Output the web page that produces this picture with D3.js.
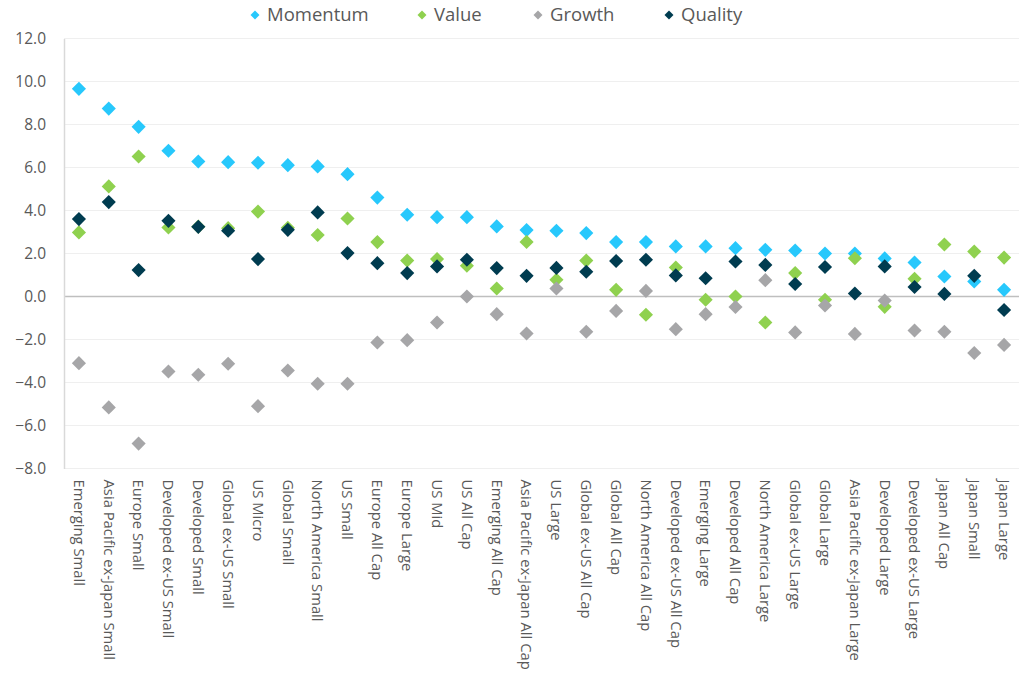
<!DOCTYPE html>
<html>
<head>
<meta charset="utf-8">
<script src="https://cdn.jsdelivr.net/npm/d3@7"></script>
<style>
  body { margin: 0; background: #fff; }
  text { font-family: "Open Sans", "Noto Sans", sans-serif; fill: #595959; }
</style>
</head>
<body>
<svg id="chart" width="1024" height="691"></svg>
<script>
var categories = ["Emerging Small", "Asia Pacific ex-Japan Small", "Europe Small", "Developed ex-US Small",
  "Developed Small", "Global ex-US Small", "US Micro", "Global Small", "North America Small", "US Small",
  "Europe All Cap", "Europe Large", "US Mid", "US All Cap", "Emerging All Cap", "Asia Pacific ex-Japan All Cap",
  "US Large", "Global ex-US All Cap", "Global All Cap", "North America All Cap", "Developed ex-US All Cap",
  "Emerging Large", "Developed All Cap", "North America Large", "Global ex-US Large", "Global Large",
  "Asia Pacific ex-Japan Large", "Developed Large", "Developed ex-US Large", "Japan All Cap", "Japan Small", "Japan Large"];

var momentum = [9.66, 8.74, 7.89, 6.78, 6.28, 6.25, 6.22, 6.11, 6.05, 5.69,
  4.6, 3.8, 3.69, 3.69, 3.26, 3.09, 3.06, 2.95, 2.53, 2.53, 2.33,
  2.33, 2.25, 2.17, 2.14, 2.0, 2.0, 1.77, 1.58, 0.93, 0.70, 0.31];
var value = [2.98, 5.12, 6.51, 3.21, 3.25, 3.18, 3.95, 3.2, 2.86, 3.63,
  2.53, 1.67, 1.74, 1.43, 0.37, 2.54, 0.78, 1.67, 0.31, -0.85, 1.35,
  -0.15, 0.0, -1.21, 1.09, -0.15, 1.78, -0.48, 0.82, 2.42, 2.09, 1.81];
var growth = [-3.1, -5.16, -6.84, -3.49, -3.64, -3.13, -5.1, -3.44, -4.06, -4.06,
  -2.14, -2.03, -1.21, 0.0, -0.82, -1.72, 0.37, -1.64, -0.67, 0.26, -1.52,
  -0.82, -0.49, 0.76, -1.67, -0.42, -1.74, -0.19, -1.58, -1.64, -2.63, -2.25];
var quality = [3.6, 4.39, 1.23, 3.52, 3.24, 3.06, 1.74, 3.1, 3.91, 2.02,
  1.55, 1.09, 1.4, 1.71, 1.32, 0.96, 1.33, 1.15, 1.65, 1.71, 0.98,
  0.85, 1.63, 1.47, 0.58, 1.37, 0.14, 1.4, 0.44, 0.12, 0.96, -0.63];

var yTicks = [-8, -6, -4, -2, 0, 2, 4, 6, 8, 10, 12];

var series = [
  {name: "Momentum", values: momentum, color: "#27c8fc"},
  {name: "Value", values: value, color: "#8fd14f"},
  {name: "Growth", values: growth, color: "#a6a6a8"},
  {name: "Quality", values: quality, color: "#003c50"}
];

var margin = {top: 38.5, right: 5, bottom: 222.5, left: 64}
  , width = 1024 - margin.left - margin.right
  , height = 691 - margin.top - margin.bottom;

var svg = d3.select("#chart");
var g = svg.append("g").attr("transform", "translate(" + margin.left + "," + margin.top + ")");

var x = d3.scaleBand().domain(categories).range([0, width]);
var y = d3.scaleLinear().domain([-8, 12]).range([height, 0]);

// gridlines
g.selectAll(".grid")
  .data(yTicks)
  .enter().append("line")
  .attr("x1", 0).attr("x2", width)
  .attr("y1", function(d) { return y(d); })
  .attr("y2", function(d) { return y(d); })
  .style("stroke", function(d) { return d == 0 ? "#bfbfbf" : "#efefef"; })
  .style("stroke-width", function(d) { return d == 0 ? 1.5 : 1.2; });

// y axis
var yAxis = g.append("g")
  .call(d3.axisLeft(y).tickValues(yTicks).tickFormat(d3.format(".1f")).tickSize(0).tickPadding(18));
yAxis.select(".domain").style("stroke", "#d9d9d9").style("stroke-width", 1.5);
yAxis.selectAll("text").style("font-size", "15.5px").style("fill", "#595959");

// x labels
var xAxis = g.append("g")
  .attr("transform", "translate(0," + height + ")")
  .call(d3.axisBottom(x).tickSize(0).tickPadding(0));
xAxis.select(".domain").remove();
xAxis.selectAll("text")
  .attr("transform", "rotate(90)")
  .attr("x", 11)
  .attr("y", 0)
  .attr("dy", "0.35em")
  .style("text-anchor", "start")
  .style("font-size", "14.8px")
  .style("fill", "#595959");

// markers
var diamond = d3.symbol().type(d3.symbolSquare).size(100)();

series.forEach(function(s) {
  g.selectAll(".pt-" + s.name)
    .data(s.values)
    .enter().append("path")
    .attr("d", diamond)
    .attr("transform", function(d, i) {
      return "translate(" + (x(categories[i]) + x.bandwidth() / 2) + "," + y(d) + ") rotate(45)";
    })
    .style("fill", s.color);
});

// legend
var legendX = [255, 422, 538, 669];
var legend = svg.append("g").attr("transform", "translate(0,15)");
var small = d3.symbol().type(d3.symbolSquare).size(40)();
series.forEach(function(s, i) {
  var item = legend.append("g").attr("transform", "translate(" + legendX[i] + ",0)");
  item.append("path")
    .attr("d", small)
    .attr("transform", "rotate(45)")
    .style("fill", s.color);
  item.append("text")
    .attr("x", 12)
    .attr("dy", "0.35em")
    .style("font-size", "18.5px")
    .text(s.name);
});
</script>
</body>
</html>
